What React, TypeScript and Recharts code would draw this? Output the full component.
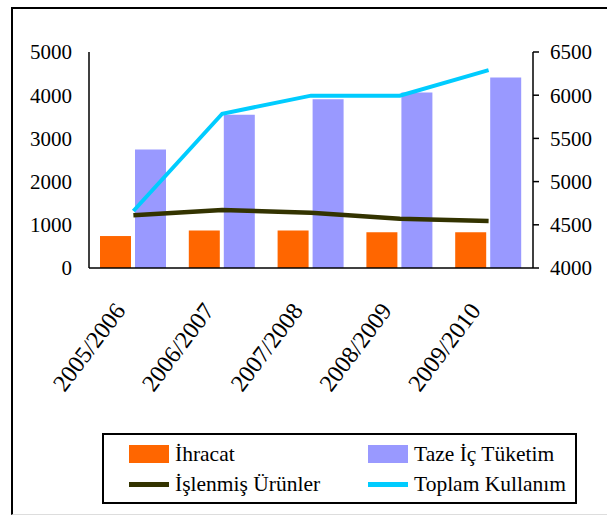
import { Bar, ComposedChart, Line, XAxis, YAxis } from 'recharts'

const categories = ['2005/2006', '2006/2007', '2007/2008', '2008/2009', '2009/2010']
const ihracat = [740, 870, 870, 825, 825]
const tazeIcTuketim = [2745, 3550, 3905, 4065, 4410]
const islenmisUrunler = [1220, 1340, 1280, 1140, 1090]
const toplamKullanim = [4660, 5785, 5995, 5995, 6290]
const leftTicks = [0, 1000, 2000, 3000, 4000, 5000]
const rightTicks = [4000, 4500, 5000, 5500, 6000, 6500]

const FONT = "'Liberation Serif', 'Times New Roman', serif"

const data = categories.map((label, i) => ({
  label,
  ihracat: ihracat[i],
  taze: tazeIcTuketim[i],
  islenmis: islenmisUrunler[i],
  toplam: toplamKullanim[i],
}))

const legendItems = [
  { name: 'İhracat', color: '#FF6600', kind: 'bar', left: 25, top: 10 },
  { name: 'Taze İç Tüketim', color: '#9999FF', kind: 'bar', left: 264, top: 10 },
  { name: 'İşlenmiş Ürünler', color: '#333300', kind: 'line', left: 25, top: 40 },
  { name: 'Toplam Kullanım', color: '#00CCFF', kind: 'line', left: 264, top: 40 },
]

function XTick({ x, y, payload }: any) {
  return (
    <g transform={`translate(${x - 7},${y + 43})`}>
      <text textAnchor="end" transform="rotate(-53)" fill="#000" style={{ fontFamily: FONT, fontSize: 24 }}>
        {payload.value}
      </text>
    </g>
  )
}

function YTick({ x, y, payload, textAnchor }: any) {
  return (
    <text x={x} y={y} dy="0.35em" textAnchor={textAnchor} fill="#000" style={{ fontFamily: FONT, fontSize: 21 }}>
      {payload.value}
    </text>
  )
}

function ChartLegend() {
  return (
    <div
      style={{
        position: 'absolute',
        left: 102,
        top: 433,
        width: 471,
        height: 67,
        border: '2px solid #000',
        background: '#fff',
        fontFamily: FONT,
        fontSize: 21.5,
        color: '#000',
      }}
    >
      {legendItems.map((item) => (
        <div key={item.name} style={{ position: 'absolute', left: item.left, top: item.top, height: 18, display: 'flex', alignItems: 'center' }}>
          <div
            style={{
              width: 40,
              height: item.kind === 'bar' ? 18 : 5,
              background: item.color,
              marginRight: 6,
            }}
          />
          <span style={{ lineHeight: '18px', whiteSpace: 'nowrap' }}>{item.name}</span>
        </div>
      ))}
    </div>
  )
}

export default function App() {
  return (
    <div style={{ position: 'absolute', left: 0, top: 0, width: 607, height: 515, background: '#fff', overflow: 'hidden', fontFamily: FONT }}>
      <div
        style={{
          position: 'absolute',
          left: 11,
          top: 7,
          width: 700,
          height: 505,
          borderLeft: '2px solid #000',
          borderTop: '2px solid #000',
          borderBottom: '1px solid #ddd',
        }}
      />
      <div style={{ position: 'absolute', left: 0, top: 0 }}>
        <ComposedChart width={607} height={515} data={data} margin={{ top: 52, right: 0, left: 0, bottom: 0 }}>
          <XAxis
            dataKey="label"
            height={247}
            tickLine={false}
            tickSize={0}
            tickMargin={0}
            axisLine={{ stroke: '#000', strokeWidth: 1.5 }}
            tick={<XTick />}
            interval={0}
          />
          <YAxis
            yAxisId="left"
            width={89}
            domain={[0, 5000]}
            ticks={leftTicks}
            tickLine={false}
            tickSize={0}
            tickMargin={17}
            axisLine={{ stroke: '#000', strokeWidth: 1.5 }}
            tick={<YTick />}
          />
          <YAxis
            yAxisId="right"
            orientation="right"
            width={74}
            domain={[4000, 6500]}
            ticks={rightTicks}
            tickSize={6}
            tickMargin={11}
            tickLine={{ stroke: '#000', strokeWidth: 1.5 }}
            axisLine={{ stroke: '#000', strokeWidth: 1.5 }}
            tick={<YTick />}
          />
          <Bar yAxisId="left" dataKey="ihracat" name="İhracat" fill="#FF6600" barSize={31} isAnimationActive={false} />
          <Bar yAxisId="left" dataKey="taze" name="Taze İç Tüketim" fill="#9999FF" barSize={31} isAnimationActive={false} />
          <Line yAxisId="right" dataKey="toplam" name="Toplam Kullanım" stroke="#00CCFF" strokeWidth={4} dot={false} type="linear" isAnimationActive={false} />
          <Line yAxisId="left" dataKey="islenmis" name="İşlenmiş Ürünler" stroke="#333300" strokeWidth={4.5} dot={false} type="linear" isAnimationActive={false} />
        </ComposedChart>
      </div>
      <ChartLegend />
    </div>
  )
}
